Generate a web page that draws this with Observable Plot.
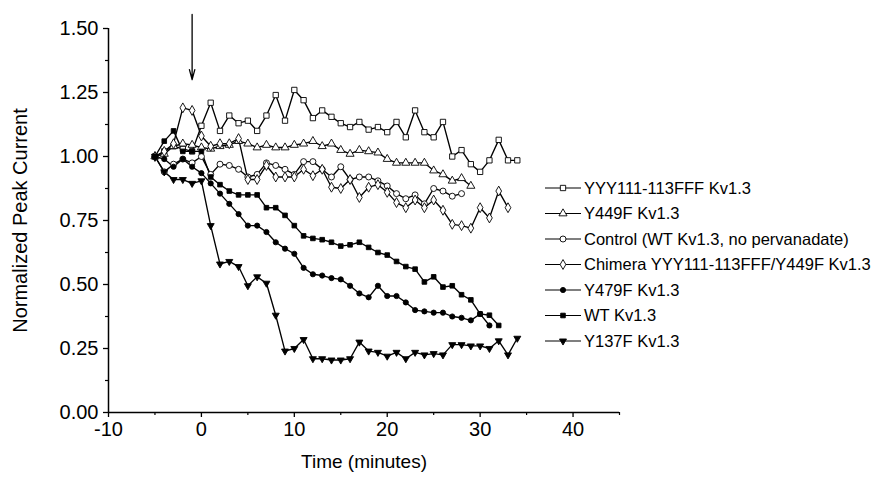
<!DOCTYPE html>
<html><head><meta charset="utf-8">
<script src="https://cdn.jsdelivr.net/npm/d3@7"></script>
<script src="https://cdn.jsdelivr.net/npm/@observablehq/plot@0.6"></script>
<style>
body{margin:0;background:#fff;}
#wrap{position:relative;width:877px;height:482px;font-family:"Liberation Sans",Arial,sans-serif;}
#legend{position:absolute;left:0;top:0;pointer-events:none;}
</style></head><body><div id="wrap"></div>
<script>
// time points (minutes)
const minutes = [-5,-4,-3,-2,-1,0,1,2,3,4,5,6,7,8,9,10,11,12,13,14,15,16,17,18,19,20,21,22,23,24,25,26,27,28,29,30,31,32,33,34];

const seriesNames = ["YYY111-113FFF Kv1.3","Y449F Kv1.3","Control (WT Kv1.3, no pervanadate)","Chimera YYY111-113FFF/Y449F Kv1.3","Y479F Kv1.3","WT Kv1.3","Y137F Kv1.3"];
const seriesSymbols = ["square","triangle","circle","diamond","circle","square","triangleDown"];
const seriesFilled = [false,false,false,false,true,true,true];

const yyy = [1.00,1.02,1.04,1.03,1.02,1.12,1.21,1.10,1.16,1.13,1.14,1.10,1.16,1.24,1.14,1.26,1.22,1.15,1.18,1.155,1.13,1.115,1.135,1.105,1.115,1.095,1.135,1.075,1.18,1.095,1.075,1.135,1.00,1.025,0.97,0.94,0.985,1.065,0.985,0.985];
const y449f = [1.00,1.01,1.04,1.05,1.045,1.035,1.03,1.04,1.045,1.06,1.05,1.035,1.045,1.035,1.035,1.045,1.05,1.06,1.04,1.05,1.025,1.01,1.025,1.02,1.015,0.99,0.975,0.975,0.975,0.975,0.945,0.93,0.905,0.915,0.885];
const control = [1.00,0.94,0.97,0.99,0.975,1.00,0.93,0.97,0.965,0.95,0.92,0.93,0.975,0.965,0.95,0.93,0.98,0.98,0.95,0.92,0.96,0.91,0.92,0.92,0.905,0.885,0.855,0.835,0.85,0.815,0.875,0.865,0.845,0.855];
const chimera = [1.00,1.02,1.05,1.19,1.18,1.08,1.04,1.05,1.05,1.07,0.91,0.91,0.965,0.92,0.92,0.92,0.95,0.925,0.95,0.88,0.875,0.91,0.84,0.88,0.89,0.86,0.82,0.80,0.83,0.80,0.83,0.79,0.735,0.73,0.72,0.80,0.76,0.865,0.80];
const y479f = [1.00,0.99,0.96,0.99,0.96,0.935,0.895,0.855,0.815,0.775,0.73,0.73,0.705,0.665,0.64,0.62,0.565,0.54,0.535,0.525,0.52,0.495,0.465,0.45,0.495,0.455,0.455,0.43,0.40,0.395,0.39,0.39,0.375,0.37,0.36,0.385,0.34];
const wt = [1.00,1.06,1.10,1.02,1.02,1.02,0.92,0.89,0.865,0.85,0.85,0.85,0.80,0.80,0.77,0.73,0.69,0.68,0.675,0.665,0.65,0.655,0.665,0.645,0.625,0.615,0.59,0.57,0.56,0.51,0.53,0.49,0.495,0.46,0.44,0.385,0.38,0.34];
const y137f = [1.00,0.94,0.91,0.91,0.895,0.905,0.73,0.58,0.59,0.57,0.495,0.53,0.505,0.38,0.24,0.25,0.285,0.21,0.21,0.205,0.205,0.21,0.275,0.24,0.235,0.22,0.235,0.21,0.235,0.225,0.23,0.225,0.265,0.265,0.26,0.26,0.25,0.28,0.225,0.29];
const seriesValues = [yyy, y449f, control, chimera, y479f, wt, y137f];

const xTicks = [-10,0,10,20,30,40];
const xMinorTicks = [-5,5,15,25,35,45];
const yTicks = [0,0.25,0.5,0.75,1.0,1.25,1.5];
const yMinorTicks = [0.125,0.375,0.625,0.875,1.125,1.375];
const arrowNote = [{x: -1, from: 1.555, to: 1.30}];

const triangleDown = {
  draw(context, size) {
    const s3 = Math.sqrt(3);
    const y = -Math.sqrt(size / (s3 * 3));
    context.moveTo(0, -y * 2);
    context.lineTo(-s3 * y, y);
    context.lineTo(s3 * y, y);
    context.closePath();
  }
};
const symbolOf = name => name === "triangleDown" ? triangleDown : name;

const rows = seriesValues.flatMap((vals, s) => vals.map((v, i) => ({s, t: minutes[i], v})));

const marks = [
  Plot.ruleX([-10], {stroke: "black", strokeWidth: 1.5}),
  Plot.ruleY([0], {stroke: "black", strokeWidth: 1.5}),
  Plot.axisX(xTicks, {tickSize: 5, tickPadding: 4, fontSize: 20, label: null, strokeWidth: 1.3, tickFormat: d => String(d)}),
  Plot.axisX(xMinorTicks, {tickSize: 3, tickFormat: () => "", label: null, strokeWidth: 1.2}),
  Plot.axisY(yTicks, {tickSize: 5, tickPadding: 5, fontSize: 20, tickFormat: d3.format(".2f"), label: null, strokeWidth: 1.3}),
  Plot.axisY(yMinorTicks, {tickSize: 3, tickFormat: () => "", label: null, strokeWidth: 1.2}),
  Plot.text(["Time (minutes)"], {frameAnchor: "bottom", dy: 55, fontSize: 19, fill: "black", textAnchor: "middle"}),
  Plot.text(["Normalized Peak Current"], {frameAnchor: "left", rotate: -90, dx: -88, fontSize: 20, fill: "black", textAnchor: "middle"}),
  Plot.arrow(arrowNote, {x1: "x", x2: "x", y1: "from", y2: "to", stroke: "black", strokeWidth: 1.3, headLength: 12, headAngle: 30})
];
seriesValues.forEach((vals, s) => {
  const data = rows.filter(d => d.s === s);
  marks.push(Plot.line(data, {x: "t", y: "v", stroke: "black", strokeWidth: 1.35}));
});
seriesValues.forEach((vals, s) => {
  const data = rows.filter(d => d.s === s);
  marks.push(Plot.dot(data, {x: "t", y: "v", symbol: symbolOf(seriesSymbols[s]), r: seriesFilled[s] ? 2.6 : 3,
    fill: seriesFilled[s] ? "black" : "white", stroke: "black", strokeWidth: 0.9}));
});

const chart = Plot.plot({
  width: 877, height: 482,
  marginLeft: 108, marginRight: 258, marginTop: 28, marginBottom: 70,
  x: {domain: [-10, 45]},
  y: {domain: [0, 1.5]},
  style: {fontFamily: '"Liberation Sans", Arial, sans-serif', color: "black", background: "white", overflow: "visible"},
  marks
});
const wrap = document.getElementById("wrap");
wrap.appendChild(chart);

// legend
const lg = d3.create("svg").attr("id", "legend").attr("width", 877).attr("height", 482);
const rowY = i => 188 + i * 25.5;
seriesNames.forEach((name, i) => {
  const g = lg.append("g").attr("transform", `translate(0,${rowY(i)})`);
  g.append("line").attr("x1", 545).attr("x2", 581).attr("y1", 0).attr("y2", 0).attr("stroke", "black").attr("stroke-width", 1.2);
  const sym = d3.symbol().type(seriesSymbols[i] === "triangleDown" ? triangleDown :
    ({square: d3.symbolSquare, triangle: d3.symbolTriangle, circle: d3.symbolCircle, diamond: d3.symbolDiamond})[seriesSymbols[i]])
    .size(Math.PI * (seriesFilled[i] ? 2.6 : 3) ** 2);
  g.append("path").attr("d", sym()).attr("transform", "translate(563,0)")
    .attr("fill", seriesFilled[i] ? "black" : "white").attr("stroke", "black").attr("stroke-width", 0.9);
  g.append("text").attr("x", 584).attr("y", 0).attr("dy", "0.35em").attr("font-size", 16.5)
    .attr("font-family", '"Liberation Sans", Arial, sans-serif').attr("fill", "black").text(name);
});
wrap.appendChild(lg.node());
</script></body></html>
